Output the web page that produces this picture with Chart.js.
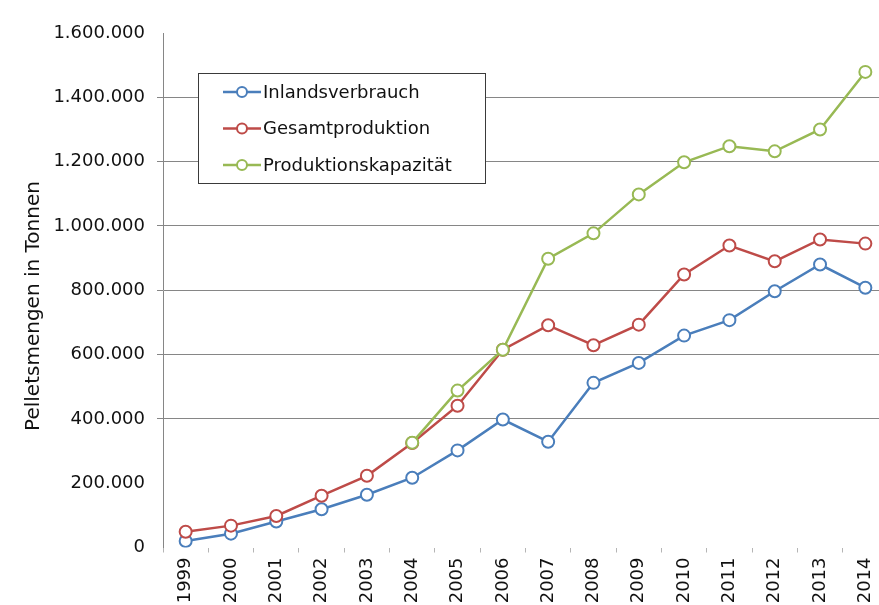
<!DOCTYPE html>
<html>
<head>
<meta charset="utf-8">
<script src="https://cdn.jsdelivr.net/npm/chart.js@4"></script>
<style>
html, body { margin: 0; padding: 0; background: #fff; overflow: hidden; width: 879px; height: 605px; }
#wrap { width: 900px; height: 620px; }
</style>
</head>
<body>
<div id="wrap"><canvas id="myChart" width="900" height="620"></canvas></div>
<script>
var jahre = ['1999', '2000', '2001', '2002', '2003', '2004', '2005', '2006', '2007', '2008', '2009', '2010', '2011', '2012', '2013', '2014'];
var inlandsverbrauch = [20000, 43000, 81000, 119000, 164000, 217000, 302000, 398000, 329000, 512000, 574000, 659000, 707000, 797000, 880000, 808000];
var gesamtproduktion = [49000, 68000, 98000, 161000, 223000, 325000, 441000, 615000, 691000, 629000, 693000, 849000, 939000, 890000, 958000, 945000];
var produktionskapazitaet = [null, null, null, null, null, 326000, 488000, 615000, 898000, 977000, 1098000, 1198000, 1248000, 1232000, 1300000, 1479000];
var serienNamen = ['Inlandsverbrauch', 'Gesamtproduktion', 'Produktionskapazität'];
var farben = ['#4a7ebb', '#be4b48', '#98b954'];
var yTitel = 'Pelletsmengen in Tonnen';

var schrift = '"DejaVu Sans", sans-serif';

function tausender(v) {
  return String(v).replace(/\B(?=(\d{3})+(?!\d))/g, '.');
}

// Legende (Kasten im Diagramm) und Achsentitel
var extras = {
  id: 'extras',
  afterDraw: function(chart) {
    var ctx = chart.ctx;
    ctx.save();
    ctx.translate(34, 306);
    ctx.rotate(-Math.PI / 2);
    ctx.font = '20px ' + schrift;
    ctx.fillStyle = '#111';
    ctx.textAlign = 'center';
    ctx.textBaseline = 'middle';
    ctx.fillText(yTitel, 0, 0);
    ctx.restore();

    ctx.save();
    ctx.fillStyle = '#fff';
    ctx.fillRect(198.5, 73.5, 287, 110);
    ctx.strokeStyle = '#3a3a3a';
    ctx.lineWidth = 1;
    ctx.strokeRect(198.5, 73.5, 287, 110);
    ctx.font = '18px ' + schrift;
    ctx.textBaseline = 'middle';
    for (var i = 0; i < serienNamen.length; i++) {
      var y = 92 + i * 36.5;
      ctx.strokeStyle = farben[i];
      ctx.lineWidth = 2.5;
      ctx.beginPath();
      ctx.moveTo(223, y);
      ctx.lineTo(261, y);
      ctx.stroke();
      ctx.beginPath();
      ctx.arc(242, y, 5, 0, Math.PI * 2);
      ctx.fillStyle = '#fff';
      ctx.fill();
      ctx.lineWidth = 2;
      ctx.stroke();
      ctx.fillStyle = '#111';
      ctx.fillText(serienNamen[i], 263, y + 1);
    }
    ctx.restore();
  }
};

function serie(i, daten, reihenfolge) {
  return {
    label: serienNamen[i],
    data: daten,
    borderColor: farben[i],
    backgroundColor: '#fff',
    borderWidth: 2.5,
    pointRadius: 6,
    pointBorderWidth: 2,
    pointBackgroundColor: '#fff',
    pointBorderColor: farben[i],
    tension: 0,
    spanGaps: false,
    order: reihenfolge
  };
}

var ohneLinie = [0, 200000, 1600000];

const ctx = document.getElementById('myChart').getContext('2d');
const myChart = new Chart(ctx, {
  type: 'line',
  data: {
    labels: jahre,
    datasets: [
      serie(0, inlandsverbrauch, 3),
      serie(1, gesamtproduktion, 2),
      serie(2, produktionskapazitaet, 1)
    ]
  },
  plugins: [extras],
  options: {
    responsive: false,
    animation: false,
    devicePixelRatio: 1,
    layout: { padding: { top: 33, right: 12, left: 0, bottom: 0 } },
    plugins: {
      legend: { display: false },
      tooltip: { enabled: false }
    },
    scales: {
      x: {
        offset: true,
        grid: {
          offset: true,
          drawOnChartArea: false,
          drawTicks: true,
          tickLength: 5,
          color: '#b5b5b5'
        },
        border: { display: false },
        ticks: {
          autoSkip: false,
          minRotation: 90,
          maxRotation: 90,
          padding: 5,
          color: '#111',
          font: { family: schrift, size: 18 }
        },
        afterFit: function(s) { s.height = 72.5; }
      },
      y: {
        min: 0,
        max: 1600000,
        ticks: {
          stepSize: 200000,
          padding: 12,
          color: '#111',
          font: { family: schrift, size: 18 },
          callback: function(v) { return tausender(v); }
        },
        grid: {
          tickLength: 6,
          color: function(c) {
            return ohneLinie.indexOf(c.tick.value) >= 0 ? 'rgba(0,0,0,0)' : '#868686';
          }
        },
        border: { display: true, color: '#868686', width: 1 },
        afterFit: function(s) { s.width = 163; }
      }
    }
  }
});
</script>
</body>
</html>
